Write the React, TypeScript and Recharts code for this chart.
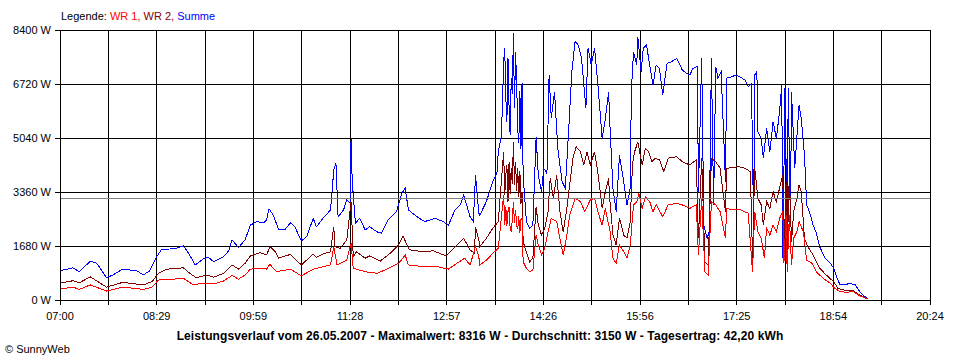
import React from 'react'
import { LineChart, Line, XAxis, YAxis, CartesianGrid, ReferenceLine } from 'recharts'

// axis setup
const xStart = 7 * 60
const xEnd = 20 * 60 + 24
const xTickLabels = ['07:00', '', '08:29', '', '09:59', '', '11:28', '', '12:57', '', '14:26', '', '15:56', '', '17:25', '', '18:54', '', '20:24']
const yTicks = [0, 1680, 3360, 5040, 6720, 8400]
const average = 3150

const title = 'Leistungsverlauf vom 26.05.2007 - Maximalwert: 8316 W - Durchschnitt: 3150 W - Tagesertrag: 42,20 kWh'

// WR 1 (red)
const wr1: [string, number][] = [
  ['07:00', 340], ['07:12', 400], ['07:18', 330], ['07:28', 470], ['07:43', 280], ['07:58', 400],
  ['08:17', 330], ['08:25', 400], ['08:31', 620], ['08:45', 650], ['08:54', 680], ['09:03', 470],
  ['09:12', 520], ['09:22', 500], ['09:31', 590], ['09:39', 760], ['09:45', 650], ['09:51', 780],
  ['09:56', 960], ['10:05', 990], ['10:11', 960], ['10:14', 1110], ['10:20', 880], ['10:33', 960],
  ['10:43', 750], ['10:54', 960], ['11:10', 1090], ['11:13', 1660], ['11:16', 1090], ['11:25', 1240],
  ['11:29', 1760], ['11:31', 990], ['11:42', 880], ['11:53', 830], ['12:02', 960], ['12:13', 1140],
  ['12:19', 1400], ['12:22', 1090], ['12:36', 1040], ['12:48', 1040], ['12:59', 960], ['13:08', 1170],
  ['13:14', 1300], ['13:19', 1090], ['13:24', 1660], ['13:27', 1350], ['13:28', 1090], ['13:34', 1240],
  ['13:40', 1450], ['13:45', 1610], ['13:50', 3270], ['13:51', 2330], ['13:52', 2900], ['13:53', 2300],
  ['13:54', 2750], ['13:55', 2900], ['13:56', 2200], ['13:57', 2120], ['13:58', 2500], ['13:59', 3060],
  ['14:00', 2400], ['14:01', 2800], ['14:02', 2330], ['14:03', 2200], ['14:04', 2600], ['14:05', 2100],
  ['14:06', 2500], ['14:07', 2540], ['14:08', 1190], ['14:11', 990], ['14:14', 880],
  ['14:17', 930], ['14:20', 2020], ['14:22', 1710], ['14:25', 1400], ['14:28', 1610], ['14:31', 2120],
  ['14:34', 2540], ['14:39', 2440], ['14:42', 1920], ['14:45', 1400], ['14:48', 1920], ['14:51', 2640],
  ['14:56', 3160], ['15:01', 3060], ['15:05', 2750], ['15:10', 3110], ['15:14', 3160], ['15:17', 2750],
  ['15:21', 2330], ['15:24', 2850], ['15:27', 2330], ['15:28', 2230], ['15:31', 1300], ['15:34', 1140],
  ['15:37', 1710], ['15:41', 1500], ['15:44', 1300], ['15:47', 1710], ['15:50', 2960], ['15:53', 3060],
  ['15:55', 3320], ['15:58', 2850], ['16:01', 3210], ['16:05', 3060], ['16:08', 2750], ['16:11', 2960],
  ['16:17', 2590], ['16:22', 2960], ['16:30', 3010], ['16:35', 2960], ['16:42', 2850], ['16:48', 2960],
  ['16:50', 1400], ['16:53', 3160], ['16:56', 880], ['16:59', 780], ['17:02', 3060], ['17:06', 2960],
  ['17:10', 2750], ['17:15', 1920], ['17:16', 2850], ['17:22', 2800], ['17:27', 2830], ['17:36', 2700],
  ['17:40', 880], ['17:42', 2750], ['17:45', 2120], ['17:48', 1920], ['17:51', 1300], ['17:53', 2230],
  ['17:56', 2020], ['17:59', 2330], ['18:02', 2120], ['18:05', 2540], ['18:08', 2750], ['18:09', 1140],
  ['18:11', 2640], ['18:12', 880], ['18:14', 2640], ['18:16', 1090], ['18:18', 1920], ['18:21', 2120],
  ['18:23', 2440], ['18:27', 2120], ['18:30', 1240], ['18:35', 1140], ['18:39', 880], ['18:45', 680],
  ['18:52', 520], ['18:56', 360], ['19:01', 260], ['19:07', 240], ['19:13', 260], ['19:19', 130],
  ['19:27', 30],
]

// WR 2 (dark red)
const wr2: [string, number][] = [
  ['07:00', 520], ['07:12', 600], ['07:18', 540], ['07:28', 720], ['07:43', 400], ['07:58', 550],
  ['08:17', 470], ['08:25', 570], ['08:31', 830], ['08:39', 960], ['08:54', 1000], ['09:00', 830],
  ['09:06', 690], ['09:16', 780], ['09:22', 710], ['09:31', 830], ['09:39', 1090], ['09:45', 960],
  ['09:51', 1140], ['09:56', 1370], ['10:05', 1470], ['10:11', 1400], ['10:14', 1660], ['10:19', 1500],
  ['10:22', 1300], ['10:33', 1420], ['10:43', 1090], ['10:54', 1430], ['10:57', 1330], ['11:03', 1430],
  ['11:10', 1500], ['11:13', 2280], ['11:14', 1660], ['11:19', 1610], ['11:25', 1870], ['11:29', 3060],
  ['11:31', 1350], ['11:34', 1500], ['11:42', 1300], ['11:46', 1370], ['11:56', 1210], ['12:05', 1450],
  ['12:13', 1710], ['12:17', 1990], ['12:20', 1760], ['12:23', 1560], ['12:36', 1500], ['12:45', 1530],
  ['12:57', 1370], ['13:07', 1710], ['13:13', 1920], ['13:19', 1560], ['13:23', 1450], ['13:24', 2280],
  ['13:27', 1870], ['13:28', 1660], ['13:34', 1920], ['13:40', 2230], ['13:45', 2440], ['13:50', 4610],
  ['13:51', 3270], ['13:52', 3900], ['13:53', 4200], ['13:54', 3060], ['13:55', 4300], ['13:56', 3300],
  ['13:57', 4100], ['13:58', 3600], ['13:59', 4920], ['14:00', 3580], ['14:01', 4300], ['14:02', 3400],
  ['14:03', 4100], ['14:04', 3200], ['14:05', 4000], ['14:06', 3000], ['14:07', 3370], ['14:08', 1810],
  ['14:11', 1500], ['14:14', 1190], ['14:17', 1300],
  ['14:20', 2900], ['14:22', 2330], ['14:25', 2020], ['14:28', 2230], ['14:31', 2750], ['14:33', 3790],
  ['14:36', 3160], ['14:39', 3890], ['14:42', 2750], ['14:45', 2120], ['14:48', 2750], ['14:51', 3580],
  ['14:54', 4410], ['14:57', 4770], ['15:01', 4610], ['15:04', 4200], ['15:07', 4610], ['15:10', 4200],
  ['15:14', 4610], ['15:17', 3990], ['15:21', 2850], ['15:24', 3370], ['15:27', 3790], ['15:28', 3160],
  ['15:31', 2020], ['15:34', 1710], ['15:37', 2540], ['15:41', 2020], ['15:44', 1920], ['15:47', 2440],
  ['15:49', 4200], ['15:51', 4610], ['15:54', 4920], ['15:58', 4200], ['16:01', 4720], ['16:04', 4610],
  ['16:07', 4300], ['16:10', 4410], ['16:14', 4360], ['16:18', 3990], ['16:22', 4410], ['16:30', 4460],
  ['16:35', 4300], ['16:42', 4200], ['16:48', 4360], ['16:50', 1920], ['16:53', 4410], ['16:56', 1190],
  ['16:59', 1090], ['17:02', 4410], ['17:06', 4300], ['17:10', 4100], ['17:15', 2750], ['17:16', 4100],
  ['17:22', 4120], ['17:27', 4150], ['17:33', 4100], ['17:38', 3990], ['17:40', 1300], ['17:42', 4100],
  ['17:45', 3160], ['17:48', 2960], ['17:50', 2330], ['17:53', 3060], ['17:56', 2850], ['17:59', 3370],
  ['18:02', 3060], ['18:05', 3480], ['18:08', 3890], ['18:09', 1300], ['18:11', 3680], ['18:12', 1500],
  ['18:14', 3890], ['18:16', 1810], ['18:18', 2750], ['18:21', 3160], ['18:23', 3580], ['18:25', 3370],
  ['18:28', 1920], ['18:31', 1660], ['18:36', 1400], ['18:42', 990], ['18:48', 780], ['18:55', 570],
  ['18:59', 360], ['19:05', 310], ['19:12', 310], ['19:18', 180], ['19:27', 30],
]

// Summe (blue)
const summe: [string, number][] = [
  ['07:00', 910], ['07:12', 1000], ['07:18', 880], ['07:28', 1210], ['07:34', 1140], ['07:43', 690],
  ['07:49', 780], ['07:58', 960], ['08:11', 910], ['08:17', 780], ['08:23', 910], ['08:29', 1330],
  ['08:34', 1580], ['08:45', 1590], ['08:54', 1680], ['08:59', 1450], ['09:05', 1090], ['09:12', 1270],
  ['09:17', 1330], ['09:22', 1190], ['09:31', 1350], ['09:36', 1530], ['09:39', 1870], ['09:45', 1630],
  ['09:51', 1870], ['09:56', 2330], ['10:02', 2440], ['10:08', 2400], ['10:11', 2490], ['10:13', 2820],
  ['10:14', 2800], ['10:17', 2640], ['10:22', 2200], ['10:28', 2200], ['10:33', 2400], ['10:37', 2280],
  ['10:43', 1840], ['10:48', 1970], ['10:54', 2540], ['10:57', 2280], ['11:03', 2540], ['11:10', 2800],
  ['11:13', 4040], ['11:15', 4250], ['11:17', 2590], ['11:22', 2800], ['11:25', 3110], ['11:28', 3010],
  ['11:29', 5030], ['11:30', 3730], ['11:33', 2390], ['11:37', 2540], ['11:42', 2180], ['11:46', 2280],
  ['11:53', 2120], ['11:57', 2080], ['12:03', 2490], ['12:11', 2750], ['12:16', 3320], ['12:19', 3480],
  ['12:22', 2800], ['12:30', 2590], ['12:37', 2440], ['12:47', 2540], ['12:54', 2440], ['12:59', 2330],
  ['13:05', 2800], ['13:10', 2960], ['13:13', 3270], ['13:19', 2590], ['13:22', 2440], ['13:24', 3890],
  ['13:27', 2700], ['13:28', 2640], ['13:34', 3060], ['13:40', 3680], ['13:44', 3990], ['13:45', 4610],
  ['13:48', 5130], ['13:50', 7410], ['13:51', 7830], ['13:52', 6300], ['13:53', 5550], ['13:54', 7520],
  ['13:55', 6000], ['13:56', 5130], ['13:57', 6900], ['13:58', 6400], ['13:59', 8316], ['14:00', 5960],
  ['14:01', 7700], ['14:02', 6790], ['14:03', 5300], ['14:04', 4880], ['14:05', 6500], ['14:06', 4700],
  ['14:07', 6740], ['14:08', 3890], ['14:11', 2440], ['14:14', 2230], ['14:17', 2330], ['14:20', 5080],
  ['14:22', 3890], ['14:25', 3370], ['14:27', 4100], ['14:30', 3940], ['14:32', 7000], ['14:34', 5650],
  ['14:37', 6480], ['14:40', 4720], ['14:44', 3680], ['14:47', 3480], ['14:50', 5240], ['14:53', 7100],
  ['14:56', 8040], ['14:59', 7930], ['15:02', 7520], ['15:06', 5960], ['15:08', 7830], ['15:11', 7310],
  ['15:14', 7830], ['15:17', 6740], ['15:21', 5030], ['15:24', 5650], ['15:27', 6480], ['15:28', 5600],
  ['15:31', 3480], ['15:34', 2750], ['15:37', 4510], ['15:41', 3680], ['15:44', 2960], ['15:47', 3480],
  ['15:48', 6480], ['15:50', 7720], ['15:53', 7310], ['15:54', 8190], ['15:57', 7100], ['15:59', 7830],
  ['16:02', 7930], ['16:05', 7310], ['16:08', 6690], ['16:11', 7310], ['16:14', 7210], ['16:17', 6380],
  ['16:21', 7360], ['16:25', 7410], ['16:30', 7520], ['16:35', 7160], ['16:39', 7050], ['16:42', 7000],
  ['16:45', 7210], ['16:49', 7260], ['16:50', 3370], ['16:53', 7520], ['16:55', 2330], ['16:58', 1920],
  ['17:00', 2120], ['17:02', 7520], ['17:04', 2960], ['17:06', 7260], ['17:08', 6900], ['17:11', 7100],
  ['17:15', 3680], ['17:16', 6900], ['17:21', 6950], ['17:25', 7000], ['17:28', 6950], ['17:33', 6840],
  ['17:36', 6640], ['17:39', 6740], ['17:41', 2330], ['17:42', 7000], ['17:44', 7100], ['17:45', 5240],
  ['17:48', 5030], ['17:50', 4410], ['17:53', 5340], ['17:56', 4610], ['17:59', 5550], ['18:02', 5030],
  ['18:05', 5860], ['18:07', 6690], ['18:08', 1300], ['18:10', 6590], ['18:12', 1920], ['18:13', 6590],
  ['18:15', 2330], ['18:16', 6480], ['18:19', 4100], ['18:23', 6070], ['18:25', 5650], ['18:28', 4510],
  ['18:30', 2960], ['18:33', 2700], ['18:36', 2330], ['18:39', 2080], ['18:42', 1660], ['18:47', 1300],
  ['18:52', 1140], ['18:55', 990], ['18:58', 680], ['19:01', 470], ['19:05', 470], ['19:10', 520],
  ['19:15', 470], ['19:19', 260], ['19:24', 100], ['19:27', 30],
]

const toMinutes = (s: string) => {
  const [h, m] = s.split(':').map(Number)
  return h * 60 + m
}

const toPoints = (rows: [string, number][]) => rows.map(([t, w]) => ({ t: toMinutes(t), w }))

const xTicks = xTickLabels.map((_, i) => xStart + (i * (xEnd - xStart)) / (xTickLabels.length - 1))

const font = '"Liberation Sans", Arial, sans-serif'
const tickStyle = { fill: '#000', fontSize: 11, fontFamily: font }

export default function App() {
  return (
    <div
      style={{
        position: 'absolute',
        left: 0,
        top: 0,
        width: 960,
        height: 360,
        background: '#fff',
        fontFamily: font,
        fontSize: 11,
      }}
    >
      <LineChart width={960} height={360} margin={{ top: 30, right: 30, bottom: 30, left: 0 }}>
        <CartesianGrid stroke="#000" shapeRendering="crispEdges" />
        <XAxis
          type="number"
          dataKey="t"
          domain={[xStart, xEnd]}
          ticks={xTicks}
          interval={0}
          allowDataOverflow
          tickFormatter={(v: number) => xTickLabels[Math.round(((v - xStart) / (xEnd - xStart)) * (xTickLabels.length - 1))]}
          tick={tickStyle}
          tickSize={5}
          tickMargin={7}
          stroke="#000"
          shapeRendering="crispEdges"
        />
        <YAxis
          type="number"
          domain={[0, 8400]}
          ticks={yTicks}
          interval={0}
          width={60}
          tickFormatter={(v: number) => `${v} W`}
          tick={tickStyle}
          tickSize={5}
          tickMargin={4}
          stroke="#000"
          shapeRendering="crispEdges"
        />
        <Line data={toPoints(summe)} dataKey="w" stroke="#0000ff" strokeWidth={1} dot={false} isAnimationActive={false} shapeRendering="crispEdges" />
        <Line data={toPoints(wr2)} dataKey="w" stroke="#800000" strokeWidth={1} dot={false} isAnimationActive={false} shapeRendering="crispEdges" />
        <Line data={toPoints(wr1)} dataKey="w" stroke="#ff0000" strokeWidth={1} dot={false} isAnimationActive={false} shapeRendering="crispEdges" />
        <ReferenceLine y={average} stroke="#808080" shapeRendering="crispEdges" />
      </LineChart>

      <div style={{ position: 'absolute', left: 61, top: 11, lineHeight: '11px', whiteSpace: 'nowrap' }}>
        Legende: <span style={{ color: '#ff0000' }}>WR 1, </span>
        <span style={{ color: '#800000' }}>WR 2, </span>
        <span style={{ color: '#0000ff' }}>Summe</span>
      </div>
      <div
        style={{
          position: 'absolute',
          left: 0,
          top: 330,
          width: 960,
          textAlign: 'center',
          fontWeight: 'bold',
          fontSize: 12,
          letterSpacing: 0.1,
          lineHeight: '12px',
          whiteSpace: 'nowrap',
        }}
      >
        {title}
      </div>
      <div style={{ position: 'absolute', left: 5, top: 344, lineHeight: '11px' }}>© SunnyWeb</div>
    </div>
  )
}
